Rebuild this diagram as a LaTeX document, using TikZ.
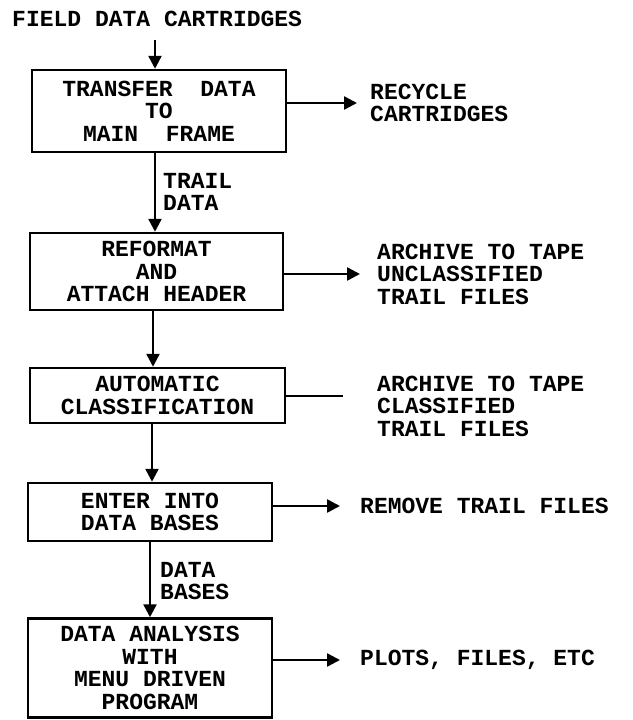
\documentclass[tikz,border=0pt]{standalone}
\usepackage{fontspec}
\setmonofont{Liberation Mono}
\usetikzlibrary{arrows.meta}
\begin{document}
\begin{tikzpicture}[x=1pt,y=-1pt,
  every node/.style={font=\fontsize{23}{22.5}\selectfont\ttfamily\bfseries, inner sep=0pt},
  box/.style={draw, line width=2.5pt, rectangle, align=center},
  arr/.style={line width=2.5pt, -{Triangle[length=13pt,width=13pt]}},
  plain/.style={line width=2pt},
  lbl/.style={anchor=west, align=left}]
\useasboundingbox (0,0) rectangle (632,720);
\fill[white] (0,0) rectangle (632,720);

\node[anchor=west] (title) at (12,19) {FIELD DATA CARTRIDGES};

\node[box, minimum width=254pt, minimum height=82pt] (b1) at (159,111) {TRANSFER\ \ DATA\\TO\\MAIN\ \ FRAME};
\node[box, minimum width=253pt, minimum height=77pt] (b2) at (156.5,271.5) {REFORMAT\\AND\\ATTACH HEADER};
\node[box, minimum width=255pt, minimum height=55pt] (b3) at (157.5,395.5) {AUTOMATIC\\CLASSIFICATION};
\node[box, minimum width=244pt, minimum height=58pt] (b4) at (150,512) {ENTER INTO\\DATA BASES};
\node[box, minimum width=244pt, minimum height=99pt] (b5) at (150,668) {DATA ANALYSIS\\WITH\\MENU DRIVEN\\PROGRAM};

\node[lbl] (t1) at (370,103) {RECYCLE\\CARTRIDGES};
\node[lbl] (t2) at (377,274) {ARCHIVE TO TAPE\\UNCLASSIFIED\\TRAIL FILES};
\node[lbl] (t3) at (377,406) {ARCHIVE TO TAPE\\CLASSIFIED\\TRAIL FILES};
\node[lbl] (t4) at (360,506) {REMOVE TRAIL FILES};
\node[lbl] (t5) at (360,660) {PLOTS, FILES, ETC};

\node[lbl] (l1) at (163,192) {TRAIL\\DATA};
\node[lbl] (l2) at (160,581) {DATA\\BASES};

\coordinate (a0) at (155,40);
\draw[arr] (a0) -- (a0 |- b1.north);
\draw[arr] ([xshift=-4pt]b1.south) -- ([xshift=-4pt]b1.south |- b2.north);
\draw[arr] ([xshift=-3.5pt]b2.south) -- ([xshift=-3.5pt]b2.south |- b3.north);
\draw[arr] ([xshift=-5.5pt]b3.south) -- ([xshift=-5.5pt]b3.south |- b4.north);
\draw[arr] (b4.south) -- (b5.north);

\draw[arr] (b1.east |- t1.west) -- ([xshift=-13pt]t1.west);
\draw[arr] (b2.east |- t2.west) -- ([xshift=-17pt]t2.west);
\draw[plain] (b3.east) -- ([xshift=-34pt]t3.west |- b3.east);
\draw[arr] (b4.east |- t4.west) -- ([xshift=-20pt]t4.west);
\draw[arr] (b5.east |- t5.west) -- ([xshift=-20pt]t5.west);
\end{tikzpicture}
\end{document}
